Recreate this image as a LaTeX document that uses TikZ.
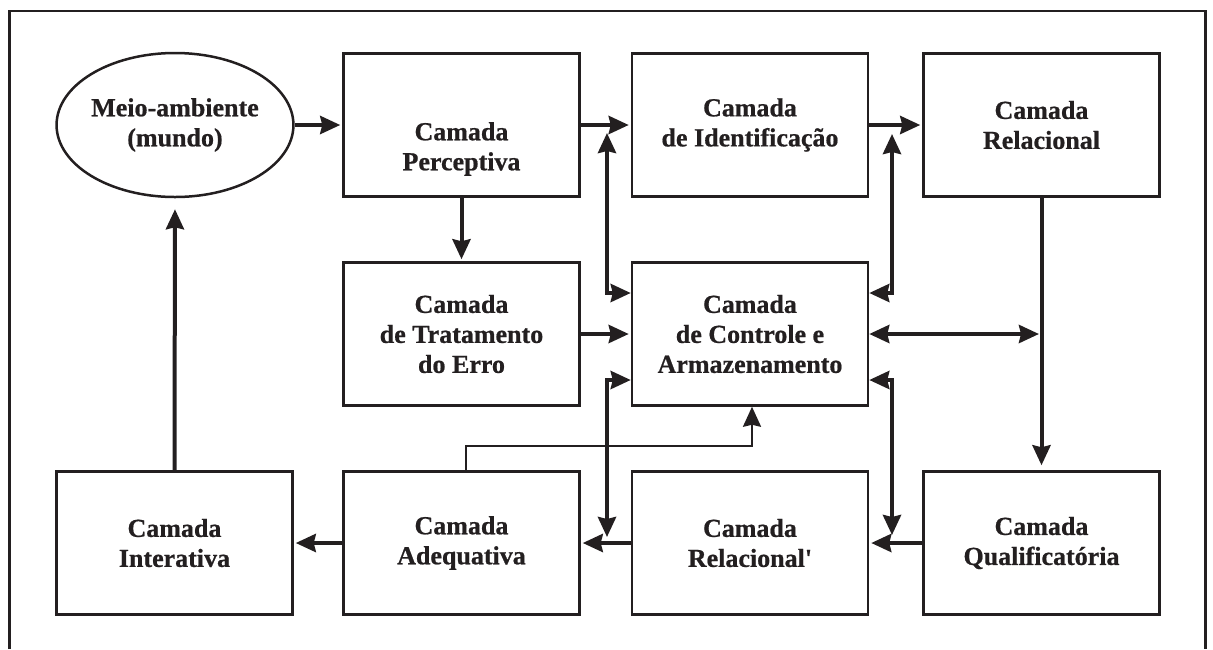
\documentclass[tikz,border=0pt]{standalone}
\usepackage{fontspec}
\setmainfont{Liberation Serif}
\newfontfamily\boxfam{Liberation Serif}[BoldFeatures={FakeBold=0.7}]
\usetikzlibrary{arrows.meta,shapes.geometric,calc}
\definecolor{ink}{RGB}{35,31,32}
\newcommand\boxfont{\boxfam\fontsize{26}{30}\selectfont\bfseries}
\begin{document}
\begin{tikzpicture}[x=1pt,y=-1pt,
  >={Stealth[length=20pt,width=18pt,inset=2pt]},
  box/.style={draw=ink, line width=2.5pt, minimum width=236pt, minimum height=143pt,
    inner sep=0pt, align=center, font=\boxfont, text=ink},
  txt/.style={inner sep=0pt, align=center, font=\boxfont, text=ink},
  oval/.style={ellipse, draw=ink, line width=2.5pt, minimum width=234pt, minimum height=144pt,
    inner sep=0pt, align=center, font=\boxfont, text=ink},
  arr/.style={draw=ink, line width=4pt, ->, shorten >=2pt},
  biarr/.style={draw=ink, line width=4pt, <->},
  thinarr/.style={draw=ink, line width=2.2pt, ->},
  frame/.style={draw=ink, line width=2.5pt}]
\useasboundingbox (0,0) rectangle (1213,649);
% outer frame (open at bottom)
\draw[frame] (9.5,649) -- (9.5,11) -- (1205.5,11) -- (1205.5,649);

% nodes
\node[oval] (env) at (175,125) {Meio-ambiente\\(mundo)};
\node[box] (perc) at (461.5,125) {};
\node[txt] (perct) at (461.5,149) {Camada\\Perceptiva};
\node[box] (ident) at (750,125) {Camada\\de Identificação};
\node[box] (rel) at (1041.5,125) {Camada\\Relacional};
\node[box] (trat) at (461.5,334) {Camada\\de Tratamento\\do Erro};
\node[box] (ctrl) at (750,334) {Camada\\de Controle e\\Armazenamento};
\node[box] (inter) at (174.5,543) {Camada\\Interativa};
\node[box] (adeq) at (461.5,543) {Camada\\Adequativa};
\node[box] (relp) at (750,543) {Camada\\Relacional\textquotesingle};
\node[box] (qual) at (1041.5,543) {Camada\\Qualificatória};

% free ends
\coordinate (c1) at (607,133);
\coordinate (c2) at (892,134);
\coordinate (c3) at (1039,334);
\coordinate (c4) at (607,537);
\coordinate (c5) at (892,535);

% connectors
\draw[arr] (env.east) -- (perc.west);
\draw[arr] (perc.east) -- (ident.west);
\draw[arr] (ident.east) -- (rel.west);
\draw[arr] (perc.south) -- (trat.north);
\draw[arr] (trat.east) -- (ctrl.west);
\draw[biarr] (c1) |- ([yshift=41pt]ctrl.west);
\draw[biarr] (c2) |- ([yshift=41pt]ctrl.east);
\draw[biarr] (ctrl.east) -- (c3);
\draw[arr, shorten >=5pt] (rel.south) -- (qual.north);
\draw[biarr] (c4) |- ([yshift=-46pt]ctrl.west);
\draw[biarr] (c5) |- ([yshift=-46pt]ctrl.east);
\draw[arr] (qual.west) -- (relp.east);
\draw[arr] (relp.west) -- (adeq.east);
\draw[arr] (adeq.west) -- (inter.east);
\draw[arr, shorten >=11pt] (inter.north) -- (env.south);
\draw[thinarr] ([xshift=4.5pt]adeq.north) -- ++(0,-24.5) -| ([xshift=2pt]ctrl.south);
\end{tikzpicture}
\end{document}
